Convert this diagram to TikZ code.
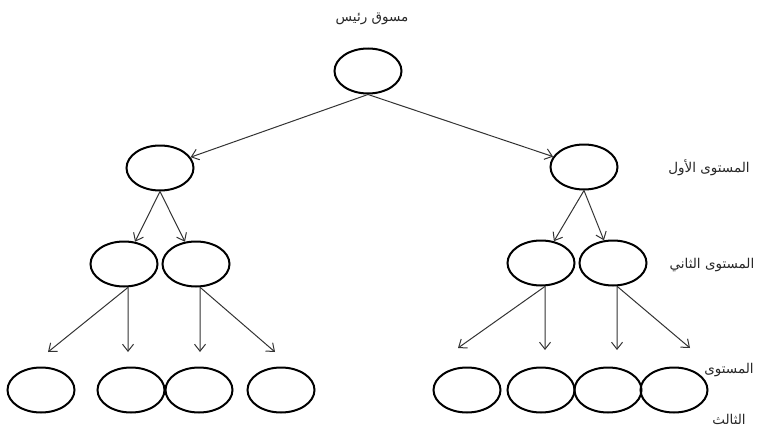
\documentclass[tikz,border=0pt]{standalone}
\usepackage{fontspec}
\newfontfamily\arabicfont[Script=Arabic]{DejaVu Sans}
\TeXXeTstate=1
\usetikzlibrary{shapes.geometric,arrows.meta}
\tikzset{
  member/.style={draw=black,line width=2pt,ellipse,minimum width=67pt,minimum height=45pt,inner sep=0pt},
  link/.style={-{Straight Barb[length=7pt,width=11pt]},draw=black!80,line width=1pt},
  levelname/.style={font=\arabicfont\fontsize{13.5}{15}\selectfont,text=black!85,align=center}
}
\begin{document}
\begin{tikzpicture}[x=1pt,y=-1pt]
 \useasboundingbox (0,0) rectangle (774,431);
 % marketer and first level
 \node[member] (top) at (368,71) {};
 \node[levelname] (toptext) at (372,19) {\beginR مسوق رئيس\endR};
 \node[member] (l1) at (160,168) {};
 \node[member] (r1) at (584,167) {};
 \node[levelname] (lvl1) at (709,168) {\beginR المستوى الأول\endR};
 %
 \draw[link] (top.south) -- (l1);
 \draw[link] (top.south) -- (r1);
 % second level
 \node[member] (l2a) at (124,264) {};
 \node[member] (l2b) at (196,264) {};
 \node[member] (r2a) at (541,263) {};
 \node[member] (r2b) at (613,263) {};
 \node[levelname] (lvl2) at (712,265) {\beginR المستوى الثاني\endR};
 %
 \draw[link] (l1.south) -- (l2a);
 \draw[link] (l1.south) -- (l2b);
 \draw[link] (r1.south) -- (r2a);
 \draw[link] (r1.south) -- (r2b);
 % third level
 \node[member] (l3a) at (41,390) {};
 \node[member] (l3b) at (131,390) {};
 \node[member] (l3c) at (199,390) {};
 \node[member] (l3d) at (281,390) {};
 \node[member] (r3a) at (467,390) {};
 \node[member] (r3b) at (541,390) {};
 \node[member] (r3c) at (608,390) {};
 \node[member] (r3d) at (674,390) {};
 \node[levelname] (lvl3) at (729,394) {\beginR المستوى\endR\\[36pt]\beginR الثالث\endR};
 %
 \coordinate (t1) at (48,352);
 \coordinate (t2) at (128,352);
 \coordinate (t3) at (200,352);
 \coordinate (t4) at (275,352);
 \coordinate (t5) at (458,348);
 \coordinate (t6) at (545,350);
 \coordinate (t7) at (617,350);
 \coordinate (t8) at (690,348);
 \draw[link] (l2a.-80) -- (t1);
 \draw[link] (l2a.-80) -- (t2);
 \draw[link] (l2b.-80) -- (t3);
 \draw[link] (l2b.-80) -- (t4);
 \draw[link] (r2a.-80) -- (t5);
 \draw[link] (r2a.-80) -- (t6);
 \draw[link] (r2b.-80) -- (t7);
 \draw[link] (r2b.-80) -- (t8);
\end{tikzpicture}
\end{document}
